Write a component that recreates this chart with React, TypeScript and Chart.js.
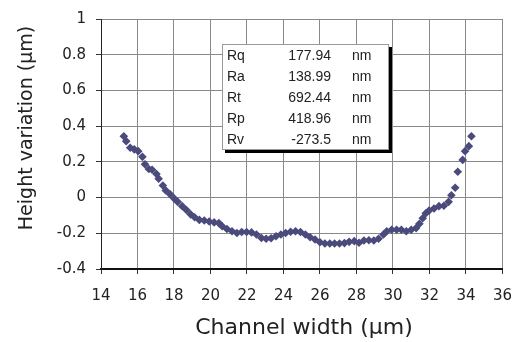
import React, { useEffect, useRef } from "react";
import { Chart, registerables } from "chart.js";

Chart.register(...registerables);

const xValues = [
  15.25, 15.38, 15.6, 15.82, 16.04, 16.27, 16.41, 16.62, 16.8, 17.04, 17.16, 17.39, 17.55, 17.79,
  18.02, 18.2, 18.45, 18.68, 18.91, 19.13, 19.39, 19.66, 19.93, 20.2, 20.46, 20.64, 20.9, 21.18,
  21.45, 21.71, 21.98, 22.25, 22.52, 22.79, 23.05, 23.32, 23.59, 23.86, 24.12, 24.39, 24.66, 24.93,
  25.2, 25.46, 25.73, 26.0, 26.27, 26.54, 26.8, 27.07, 27.34, 27.6, 27.88, 28.14, 28.41, 28.68,
  28.95, 29.21, 29.48, 29.66, 29.93, 30.2, 30.46, 30.73, 31.0, 31.27, 31.45, 31.63, 31.8, 31.98,
  32.25, 32.52, 32.79, 33.05, 33.2, 33.41, 33.55, 33.82, 33.95, 34.16, 34.3,
];
const heightValues = [
  0.343, 0.316, 0.279, 0.27, 0.26, 0.228, 0.187, 0.16, 0.156, 0.132, 0.105, 0.068, 0.04, 0.018,
  -0.006, -0.024, -0.048, -0.07, -0.094, -0.11, -0.125, -0.128, -0.134, -0.139, -0.143, -0.161,
  -0.176, -0.189, -0.198, -0.193, -0.193, -0.195, -0.207, -0.226, -0.231, -0.228, -0.217, -0.207,
  -0.198, -0.191, -0.189, -0.193, -0.207, -0.222, -0.235, -0.25, -0.257, -0.257, -0.257, -0.257,
  -0.255, -0.248, -0.244, -0.253, -0.24, -0.239, -0.24, -0.231, -0.207, -0.189, -0.18, -0.18, -0.18,
  -0.189, -0.18, -0.171, -0.147, -0.116, -0.088, -0.073, -0.061, -0.048, -0.046, -0.024, 0.013,
  0.055, 0.145, 0.211, 0.26, 0.288, 0.343,
];

const statLabels = ["Rq", "Ra", "Rt", "Rp", "Rv"];
const statValues = ["177.94", "138.99", "692.44", "418.96", "-273.5"];
const statUnits = ["nm", "nm", "nm", "nm", "nm"];

const xTitle = "Channel width (\u03bcm)";
const yTitle = "Height variation (\u03bcm)";

const TICK_FONT = '"DejaVu Sans", sans-serif';

const overlayPlugin = {
  id: "overlay",
  afterDraw(chart: any) {
    const ctx = chart.ctx as CanvasRenderingContext2D;
    ctx.save();
    // axis titles
    ctx.fillStyle = "#222";
    ctx.textAlign = "center";
    ctx.textBaseline = "middle";
    ctx.font = '22px "DejaVu Sans", sans-serif';
    ctx.fillText(xTitle, 304, 328);
    ctx.font = '19px "DejaVu Sans", sans-serif';
    ctx.save();
    ctx.translate(27, 128);
    ctx.rotate(-Math.PI / 2);
    ctx.fillText(yTitle, 0, 0);
    ctx.restore();

    // stats box
    const bx = 222, by = 44, bw = 167, bh = 106;
    ctx.fillStyle = "#000";
    ctx.fillRect(bx + 3, by + 3, bw, bh);
    ctx.fillStyle = "#fff";
    ctx.fillRect(bx, by, bw, bh);
    ctx.strokeStyle = "#999";
    ctx.lineWidth = 1;
    ctx.strokeRect(bx + 0.5, by + 0.5, bw - 1, bh - 1);
    ctx.fillStyle = "#222";
    ctx.font = '14px "Liberation Sans", Arial, sans-serif';
    for (let i = 0; i < statLabels.length; i++) {
      const y = by + 12 + i * 21;
      ctx.textAlign = "left";
      ctx.fillText(statLabels[i], bx + 5, y);
      ctx.textAlign = "right";
      ctx.fillText(statValues[i], bx + 109, y);
      ctx.textAlign = "left";
      ctx.fillText(statUnits[i], bx + 130, y);
    }
    ctx.restore();
  },
};

export default function App() {
  const canvasRef = useRef<HTMLCanvasElement>(null);

  useEffect(() => {
    if (!canvasRef.current) return;
    const points = xValues.map((x, i) => ({ x, y: heightValues[i] }));
    const chart = new Chart(canvasRef.current, {
      type: "scatter",
      data: {
        datasets: [
          {
            data: points,
            pointStyle: "rectRot",
            pointRadius: 4.3,
            backgroundColor: "#4a4a7c",
            borderColor: "#4a4a7c",
            borderWidth: 0,
          },
        ],
      },
      options: {
        animation: false,
        responsive: false,
        devicePixelRatio: 1,
        layout: { padding: { left: 0, top: 15, right: 13, bottom: 0 } },
        plugins: { legend: { display: false }, tooltip: { enabled: false } },
        scales: {
          x: {
            type: "linear",
            min: 14,
            max: 36,
            afterFit: (s: any) => {
              s.height = 73;
            },
            ticks: {
              stepSize: 2,
              color: "#222",
              padding: 13,
              font: { family: TICK_FONT, size: 15 },
              maxRotation: 0,
            },
            grid: {
              color: "#8a8a8a",
              lineWidth: 1,
              tickLength: 5,
              tickColor: "#333",
            },
            border: { color: "#111", width: 2 },
          },
          y: {
            type: "linear",
            min: -0.4,
            max: 1,
            afterFit: (s: any) => {
              s.width = 101;
            },
            ticks: {
              stepSize: 0.2,
              color: "#222",
              padding: 10,
              font: { family: TICK_FONT, size: 15 },
              callback: (v: any) => String(Number(Number(v).toFixed(1))),
            },
            grid: {
              color: "#8a8a8a",
              lineWidth: 1,
              tickLength: 5,
              tickColor: "#333",
            },
            border: { color: "#222", width: 1 },
          },
        },
      },
      plugins: [overlayPlugin],
    });
    return () => chart.destroy();
  }, []);

  return (
    <div style={{ position: "absolute", left: 0, top: 0, width: 525, height: 342, background: "#fff" }}>
      <canvas ref={canvasRef} width={525} height={342} style={{ width: 525, height: 342 }} />
    </div>
  );
}
